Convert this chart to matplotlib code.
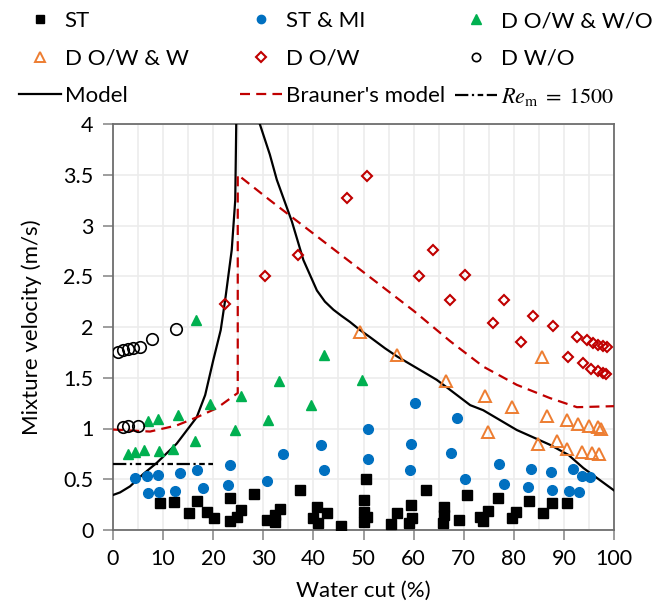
import matplotlib
matplotlib.use('Agg')
import matplotlib.pyplot as plt
from matplotlib.lines import Line2D
from matplotlib.ticker import MultipleLocator

plt.rcParams['font.family'] = ['Lato', 'DejaVu Sans']
plt.rcParams['mathtext.fontset'] = 'stix'

# flow pattern observations: water cut (%) vs mixture velocity (m/s)
st_x = [9.4, 12.2, 15.2, 16.8, 18.8, 20.2, 23.4, 23.4, 24.7, 25.5, 28.2, 30.7, 32.3, 32.3,
        33.3, 37.3, 40.8, 42.7, 39.9, 41.0, 45.5, 50.5, 50.0, 50.0, 50.0, 50.6, 56.7, 55.4,
        59.5, 59.6, 59.1, 62.5, 66.1, 66.1, 65.9, 69.1, 70.7, 73.3, 74.8, 73.8, 76.8, 79.6,
        80.4, 83.1, 85.8, 87.6, 90.7]
st_y = [0.27, 0.275, 0.17, 0.29, 0.18, 0.115, 0.32, 0.09, 0.13, 0.20, 0.35, 0.10, 0.15, 0.08,
        0.21, 0.39, 0.23, 0.17, 0.12, 0.065, 0.04, 0.50, 0.30, 0.18, 0.08, 0.13, 0.17, 0.055,
        0.245, 0.12, 0.07, 0.39, 0.23, 0.15, 0.07, 0.10, 0.345, 0.13, 0.19, 0.09, 0.32, 0.115,
        0.18, 0.29, 0.165, 0.27, 0.27]

stmi_x = [4.45, 6.7, 9.05, 13.4, 16.8, 23.4, 17.9, 23.0, 30.7, 34.0, 6.9, 9.25, 12.4, 60.3,
          50.8, 41.5, 59.5, 67.5, 68.7, 50.8, 42.1, 59.3, 70.3, 77.1, 78.0, 83.4, 82.8, 87.4,
          87.6, 91.9, 91.1, 93.1, 93.6, 95.2]
stmi_y = [0.515, 0.53, 0.54, 0.565, 0.59, 0.64, 0.41, 0.44, 0.48, 0.75, 0.36, 0.37, 0.38, 1.25,
          1.0, 0.84, 0.85, 0.755, 1.10, 0.70, 0.59, 0.59, 0.50, 0.65, 0.45, 0.60, 0.42, 0.57,
          0.39, 0.60, 0.38, 0.37, 0.535, 0.525]

dow_wo_x = [3.0, 4.4, 6.2, 9.2, 12.0, 16.4, 6.9, 9.0, 12.9, 19.4, 25.5, 24.4, 33.1, 31.0,
            16.6, 42.1, 39.5, 49.7]
dow_wo_y = [0.75, 0.77, 0.79, 0.78, 0.80, 0.88, 1.07, 1.09, 1.13, 1.24, 1.32, 0.99, 1.47, 1.08,
            2.07, 1.72, 1.23, 1.48]

dow_w_x = [49.4, 56.7, 66.5, 85.6, 74.3, 79.6, 74.9, 86.7, 90.7, 92.9, 95.1, 96.9, 97.5,
           84.9, 88.6, 90.7, 93.7, 95.7, 97.0]
dow_w_y = [1.95, 1.72, 1.47, 1.70, 1.32, 1.21, 0.97, 1.12, 1.08, 1.04, 1.02, 1.01, 1.0,
           0.85, 0.88, 0.80, 0.77, 0.755, 0.745]

dow_x = [22.4, 30.3, 50.6, 46.8, 37.0, 63.8, 61.1, 70.3, 67.3, 78.0, 75.8, 83.8, 87.9, 81.4,
         92.6, 94.7, 95.9, 96.9, 97.9, 98.7, 90.9, 93.8, 95.4, 96.9, 97.9, 98.5]
dow_y = [2.23, 2.50, 3.49, 3.27, 2.71, 2.76, 2.50, 2.51, 2.27, 2.27, 2.04, 2.11, 2.01, 1.85,
         1.90, 1.87, 1.84, 1.82, 1.81, 1.80, 1.70, 1.65, 1.59, 1.57, 1.55, 1.54]

dwo_x = [1.0, 2.0, 3.0, 4.0, 5.4, 7.8, 12.6, 2.0, 3.0, 5.0]
dwo_y = [1.75, 1.77, 1.78, 1.79, 1.80, 1.88, 1.98, 1.01, 1.02, 1.02]

# model curve, two branches either side of the asymptote
model_left_x = [0, 1.4, 3.4, 6.0, 8.7, 12.7, 16.7, 18.4, 20.0, 21.5, 22.4, 23.7, 24.4, 24.6, 24.7]
model_left_y = [0.345, 0.37, 0.43, 0.55, 0.66, 0.85, 1.11, 1.33, 1.67, 1.97, 2.27, 2.76, 3.25, 4.0, 4.4]
model_right_x = [28.6, 29.3, 31.3, 32.7, 35.7, 38.0, 40.7, 42.3, 44.0, 45.6, 47.3, 49.3, 51.3,
                 54.3, 56.7, 64.6, 67.3, 71.3, 73.9, 80.6, 87.2, 90.9, 93.9, 100]
model_right_y = [4.4, 4.0, 3.70, 3.45, 3.04, 2.66, 2.36, 2.25, 2.17, 2.11, 2.05, 1.97, 1.90,
                 1.79, 1.71, 1.48, 1.38, 1.23, 1.18, 0.985, 0.84, 0.74, 0.61, 0.39]

brauner_x = [0, 7.4, 12.7, 16.7, 20.7, 24.9, 24.9, 31.3, 40, 50, 60, 67.3, 73.9, 80.6, 87.2, 92.6, 100]
brauner_y = [0.99, 0.97, 1.03, 1.11, 1.20, 1.35, 3.5, 3.25, 2.92, 2.54, 2.16, 1.86, 1.61, 1.43,
             1.30, 1.21, 1.22]

re_x = [0, 20]
re_y = [0.65, 0.65]

W, H = 661, 611
fig = plt.figure(figsize=(W / 100, H / 100), dpi=100)
ax = fig.add_axes([113 / W, 1 - 530 / H, 501 / W, 406 / H])

blue = '#0070C0'
green = '#00B050'
orange = '#ED7D31'
red = '#C00000'
re_dash = (6, 1.6, 1, 1.6, 2.5, 1.6)

ax.plot(model_left_x, model_left_y, color='black', lw=1.6, zorder=3)
ax.plot(model_right_x, model_right_y, color='black', lw=1.6, zorder=3)
ax.plot(brauner_x, brauner_y, color=red, lw=1.6, dashes=(4.5, 2.8), zorder=3)
ax.plot(re_x, re_y, color='black', lw=1.6, dashes=re_dash, zorder=3)

ax.plot(st_x, st_y, 's', color='black', ms=6.8, zorder=4)
ax.plot(stmi_x, stmi_y, 'o', color=blue, ms=7, zorder=4)
ax.plot(dow_wo_x, dow_wo_y, '^', color=green, ms=7.5, zorder=4)
ax.plot(dow_w_x, dow_w_y, '^', mfc='none', mec=orange, mew=1.4, ms=8, zorder=4)
ax.plot(dow_x, dow_y, 'D', mfc='none', mec=red, mew=1.5, ms=5.6, zorder=4)
ax.plot(dwo_x, dwo_y, 'o', mfc='none', mec='black', mew=1.2, ms=8.3, zorder=4)

ax.set_xlim(0, 100)
ax.set_ylim(0, 4)
ax.xaxis.set_major_locator(MultipleLocator(10))
ax.xaxis.set_minor_locator(MultipleLocator(5))
ax.yaxis.set_major_locator(MultipleLocator(0.5))
ax.yaxis.set_major_formatter(plt.FuncFormatter(lambda v, p: f'{v:g}'))
ax.grid(which='both', color='#ECECEC', lw=1.2, zorder=0)
ax.set_axisbelow(True)
for s in ax.spines.values():
    s.set_color('#6E6E6E')
    s.set_linewidth(1.3)
ax.tick_params(which='major', direction='out', length=7, width=1.2, color='#8C8C8C',
               labelsize=15.5, pad=7)
ax.tick_params(which='minor', length=0)
ax.set_xlabel('Water cut (%)', fontsize=16, labelpad=8)
ax.set_ylabel('Mixture velocity (m/s)', fontsize=16, labelpad=15)


def col_legend(handles, x, y):
    fig.legend(handles=handles, loc='upper left', bbox_to_anchor=(x / W, 1 - y / H),
               frameon=False, borderpad=0, borderaxespad=0, handlelength=1.9,
               handletextpad=0.15, labelspacing=0.78, fontsize=16)


h_st = Line2D([], [], ls='none', marker='s', color='black', ms=5.5, label='ST')
h_stmi = Line2D([], [], ls='none', marker='o', color=blue, ms=6, label='ST & MI')
h_dowwo = Line2D([], [], ls='none', marker='^', color=green, ms=6.5, label='D O/W & W/O')
h_doww = Line2D([], [], ls='none', marker='^', mfc='none', mec=orange, mew=1.4, ms=7, label='D O/W & W')
h_dow = Line2D([], [], ls='none', marker='D', mfc='none', mec=red, mew=1.5, ms=5, label='D O/W')
h_dwo = Line2D([], [], ls='none', marker='o', mfc='none', mec='black', mew=1.2, ms=6, label='D W/O')
h_model = Line2D([], [], color='black', lw=1.6, label='Model')
h_brauner = Line2D([], [], color=red, lw=1.6, dashes=(4.5, 2.8), label="Brauner's model")
h_re = Line2D([], [], color='black', lw=1.6, dashes=re_dash,
              label=r'$Re_\mathrm{m}\;=\;1500$')

col_legend([h_st, h_doww, h_model], 19, 11)
col_legend([h_stmi, h_dow, h_brauner], 240, 11)
col_legend([h_dowwo, h_dwo, h_re], 455, 11)

fig.savefig('out.png', dpi=100)
